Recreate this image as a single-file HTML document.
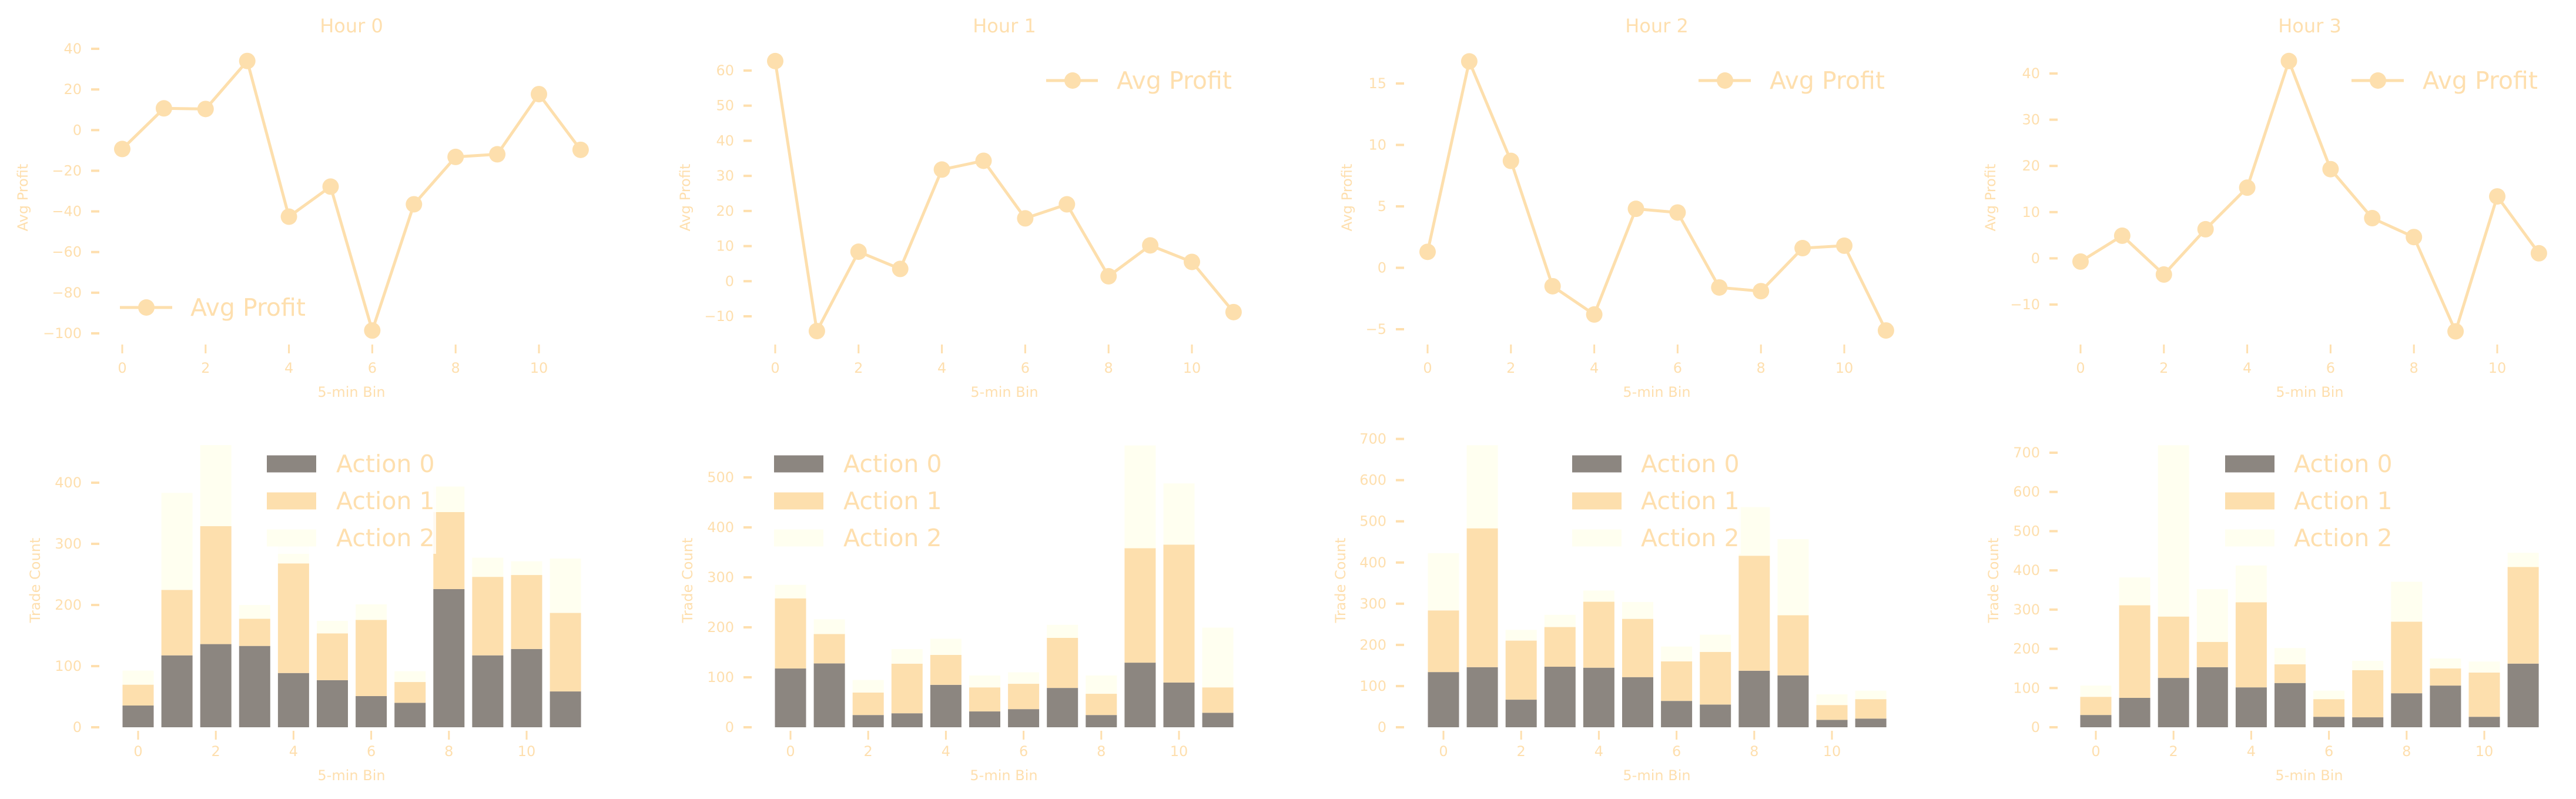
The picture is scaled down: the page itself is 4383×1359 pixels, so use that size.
<!DOCTYPE html>
<html><head><meta charset="utf-8"><style>
html,body{margin:0;padding:0;background:#fff;}
svg{display:block;font-family:"DejaVu Sans","Liberation Sans",sans-serif;}
</style></head><body>
<svg id="chart" width="4383" height="1359" viewBox="0 0 4383 1359" xmlns="http://www.w3.org/2000/svg"></svg>
<script>
// ---- data ----
const bins = [0,1,2,3,4,5,6,7,8,9,10,11];
const hours = ["Hour 0","Hour 1","Hour 2","Hour 3"];
const profitH0 = [-9.3,10.7,10.4,34,-42.6,-27.8,-98.6,-36.5,-13.2,-11.9,17.7,-9.7];
const profitH1 = [62.7,-14.2,8.4,3.5,31.8,34.3,17.9,21.9,1.4,10.2,5.5,-8.8];
const profitH2 = [1.3,16.8,8.7,-1.5,-3.8,4.8,4.5,-1.6,-1.9,1.6,1.8,-5.1];
const profitH3 = [-0.7,4.9,-3.5,6.3,15.3,42.7,19.3,8.7,4.6,-15.8,13.4,1.1];
const act0H0 = [35.6,117.6,136,133,88.7,77,51,40,226,117.6,128,58.6];
const act1H0 = [34,107.1,193,44.4,179.3,76.6,124.7,34,126,128.4,121,128.4];
const act2H0 = [23,158.6,132.5,22.6,32,20.4,25.3,17.6,41.7,31.4,22.5,89];
const act0H1 = [117.6,127.8,24.5,28,84.9,31.7,36.3,78.7,24.5,129.3,89.5,29];
const act1H1 = [140.4,58.8,45,99.3,59.8,48.1,50.7,100.3,42.5,229.1,276,50.8];
const act2H1 = [27,29.4,25.1,29.1,32.3,24,23,26,36.8,205.6,122.5,119.6];
const act0H2 = [134,145.9,67,147,144.6,121.7,64,55.2,137.2,126,18,21.1];
const act1H2 = [149.7,337.1,143.4,96.3,160.2,141.5,96,127.8,279.3,146,36,47.2];
const act2H2 = [139,201.7,26.1,29.7,27.2,41,36,41.7,118,184.9,26,20.5];
const act0H3 = [31.3,75,125.8,153.2,101.7,112.8,26.7,25.4,86.7,106.3,26.7,162.3];
const act1H3 = [46.3,236,156.5,64.5,217.1,47.6,45,120,182.5,43.7,112.8,246.4];
const act2H3 = [28.7,71,436.7,134.3,93.8,41.6,21.5,24.1,101.8,25.4,28,36.3];
const profitTicks = [[-100,-80,-60,-40,-20,0,20,40],[-10,0,10,20,30,40,50,60],[-5,0,5,10,15],[-10,0,10,20,30,40]];
const countTicks = [[0,100,200,300,400],[0,100,200,300,400,500],[0,100,200,300,400,500,600,700],[0,100,200,300,400,500,600,700]];
const xTicks = [0,2,4,6,8,10];
const profitSeries = [profitH0,profitH1,profitH2,profitH3];
const a0Series = [act0H0,act0H1,act0H2,act0H3];
const a1Series = [act1H0,act1H1,act1H2,act1H3];
const a2Series = [act2H0,act2H1,act2H2,act2H3];
const actionNames = ["Action 0","Action 1","Action 2"];

// ---- layout (pixel calibration) ----
const TXT = "#fedfae", LINE="#fddfad", C0="#8c8680", C1="#fddfad", C2="#fffff0";
const topGeom = [
 {x0:208, ref:[40,83,-100,567], lab:139, yl:39, leg:{x1:204,x2:293,mx:249,y:523,tx:324}},
 {x0:1319, ref:[60,120,-10,538], lab:1249, yl:1166, leg:{x1:1780,x2:1868,mx:1825,y:137,tx:1900}},
 {x0:2429, ref:[15,142,-5,560], lab:2359, yl:2292, leg:{x1:2890,x2:2979,mx:2935,y:137,tx:3011}},
 {x0:3540, ref:[40,125,-10,518], lab:3471, yl:3387, leg:{x1:4001,x2:4090,mx:4046,y:137,tx:4122}}
];
const botGeom = [
 {x0:235, ref:[0,1237,400,821], lab:139, yl:60, lx:454, tx:572},
 {x0:1345, ref:[0,1237,500,812], lab:1249, yl:1170, lx:1317, tx:1435},
 {x0:2456, ref:[0,1237,700,746.6], lab:2359, yl:2281, lx:2675, tx:2792},
 {x0:3566, ref:[0,1237,700,770], lab:3471, yl:3392, lx:3786, tx:3903}
];
const svg = document.getElementById('chart');
const NS = "http://www.w3.org/2000/svg";
function mk(tag, attrs, parent, text){
  const e = document.createElementNS(NS, tag);
  for (const k in attrs) e.setAttribute(k, attrs[k]);
  if (text !== undefined) e.textContent = text;
  (parent||svg).appendChild(e);
  return e;
}
function scaleY(ref){ const [v1,p1,v2,p2]=ref; return v => p1 + (v-v1)*(p2-p1)/(v2-v1); }

for (let h=0; h<4; h++){
  // ---------- top line chart ----------
  const g = topGeom[h];
  const gt = mk('g',{});
  
  
  const xs = i => g.x0 + i*70.9;
  const ys = scaleY(g.ref);
  const t = mk('text',{x:g.x0+390,y:44,'text-anchor':'middle','dominant-baseline':'central','font-size':32,fill:TXT},gt,hours[h]);
  
  
  profitTicks[h].forEach(v=>{
    const y = ys(v);
    const tm = mk('line',{x1:g.lab+16,x2:g.lab+30,y1:y,y2:y,stroke:TXT,'stroke-width':4},gt);
    
    
    const tl = mk('text',{x:g.lab,y:y,'text-anchor':'end','dominant-baseline':'central','font-size':24,fill:TXT},gt,(v<0?'\u2212'+(-v):String(v)));
    
    
  });
  xTicks.forEach(v=>{
    const x = xs(v);
    const tm = mk('line',{x1:x,x2:x,y1:586,y2:601,stroke:TXT,'stroke-width':3},gt);
    
    
    const tl = mk('text',{x:x,y:626,'text-anchor':'middle','dominant-baseline':'central','font-size':24,fill:TXT},gt,String(v));
    
    
  });
  const xl = mk('text',{x:g.x0+390,y:667,'text-anchor':'middle','dominant-baseline':'central','font-size':24,fill:TXT},gt,'5-min Bin');
  
  
  const yl = mk('text',{x:g.yl,y:336,'text-anchor':'middle','dominant-baseline':'central','font-size':24,fill:TXT,transform:`rotate(-90 ${g.yl} 336)`},gt,'Avg Profit');
  
  
  const pts = profitSeries[h].map((v,i)=>xs(bins[i])+','+ys(v)).join(' ');
  const pl = mk('polyline',{points:pts,fill:'none',stroke:LINE,'stroke-width':5,'stroke-linejoin':'round'},gt);
  
  
  profitSeries[h].forEach((v,i)=>{
    const c = mk('circle',{cx:xs(bins[i]),cy:ys(v),r:14,fill:LINE},gt);
    
    
  });
  const L = g.leg;
  const lg = mk('g',{},gt);
  
  
  mk('line',{x1:L.x1,x2:L.x2,y1:L.y,y2:L.y,stroke:LINE,'stroke-width':5},lg);
  mk('circle',{cx:L.mx,cy:L.y,r:14,fill:LINE},lg);
  mk('text',{x:L.tx,y:L.y,'dominant-baseline':'central','font-size':41,fill:TXT},lg,'Avg Profit');

  // ---------- bottom stacked bar chart ----------
  const b = botGeom[h];
  const gb = mk('g',{});
  
  
  const bx = i => b.x0 + i*66.1;
  const by = scaleY(b.ref);
  countTicks[h].forEach(v=>{
    const y = by(v);
    const tm = mk('line',{x1:b.lab+16,x2:b.lab+30,y1:y,y2:y,stroke:TXT,'stroke-width':4},gb);
    
    
    const tl = mk('text',{x:b.lab,y:y,'text-anchor':'end','dominant-baseline':'central','font-size':24,fill:TXT},gb,String(v));
    
    
  });
  xTicks.forEach(v=>{
    const x = bx(v);
    const tm = mk('line',{x1:x,x2:x,y1:1243,y2:1258,stroke:TXT,'stroke-width':3},gb);
    
    
    const tl = mk('text',{x:x,y:1278,'text-anchor':'middle','dominant-baseline':'central','font-size':24,fill:TXT},gb,String(v));
    
    
  });
  const bxl = mk('text',{x:b.x0+363,y:1319,'text-anchor':'middle','dominant-baseline':'central','font-size':24,fill:TXT},gb,'5-min Bin');
  
  
  const byl = mk('text',{x:b.yl,y:987,'text-anchor':'middle','dominant-baseline':'central','font-size':24,fill:TXT,transform:`rotate(-90 ${b.yl} 987)`},gb,'Trade Count');
  
  
  const bw = 53;
  bins.forEach((bin,i)=>{
    const v0=a0Series[h][i], v1=a1Series[h][i], v2=a2Series[h][i];
    const x = bx(bin)-bw/2;
    const r0 = mk('rect',{x:x,y:by(v0),width:bw,height:by(0)-by(v0),fill:C0},gb);
    
    
    const r1 = mk('rect',{x:x,y:by(v0+v1),width:bw,height:by(v0)-by(v0+v1),fill:C1},gb);
    
    
    const r2 = mk('rect',{x:x,y:by(v0+v1+v2),width:bw,height:by(v0+v1)-by(v0+v1+v2),fill:C2},gb);
    
    
  });
  const blg = mk('g',{},gb);
  
  
  mk('rect',{x:b.lx-20,y:762,width:(b.tx-b.lx)+190,height:180,fill:'#fff','fill-opacity':0.8},blg);
  [C0,C1,C2].forEach((c,k)=>{
    const cy = 789 + k*63;
    const p = mk('rect',{x:b.lx,y:cy-14.5,width:84,height:29,fill:c},blg);
    
    
    const lt = mk('text',{x:b.tx,y:cy,'dominant-baseline':'central','font-size':41,fill:TXT},blg,actionNames[k]);
    
    
  });
}
</script>
</body></html>
